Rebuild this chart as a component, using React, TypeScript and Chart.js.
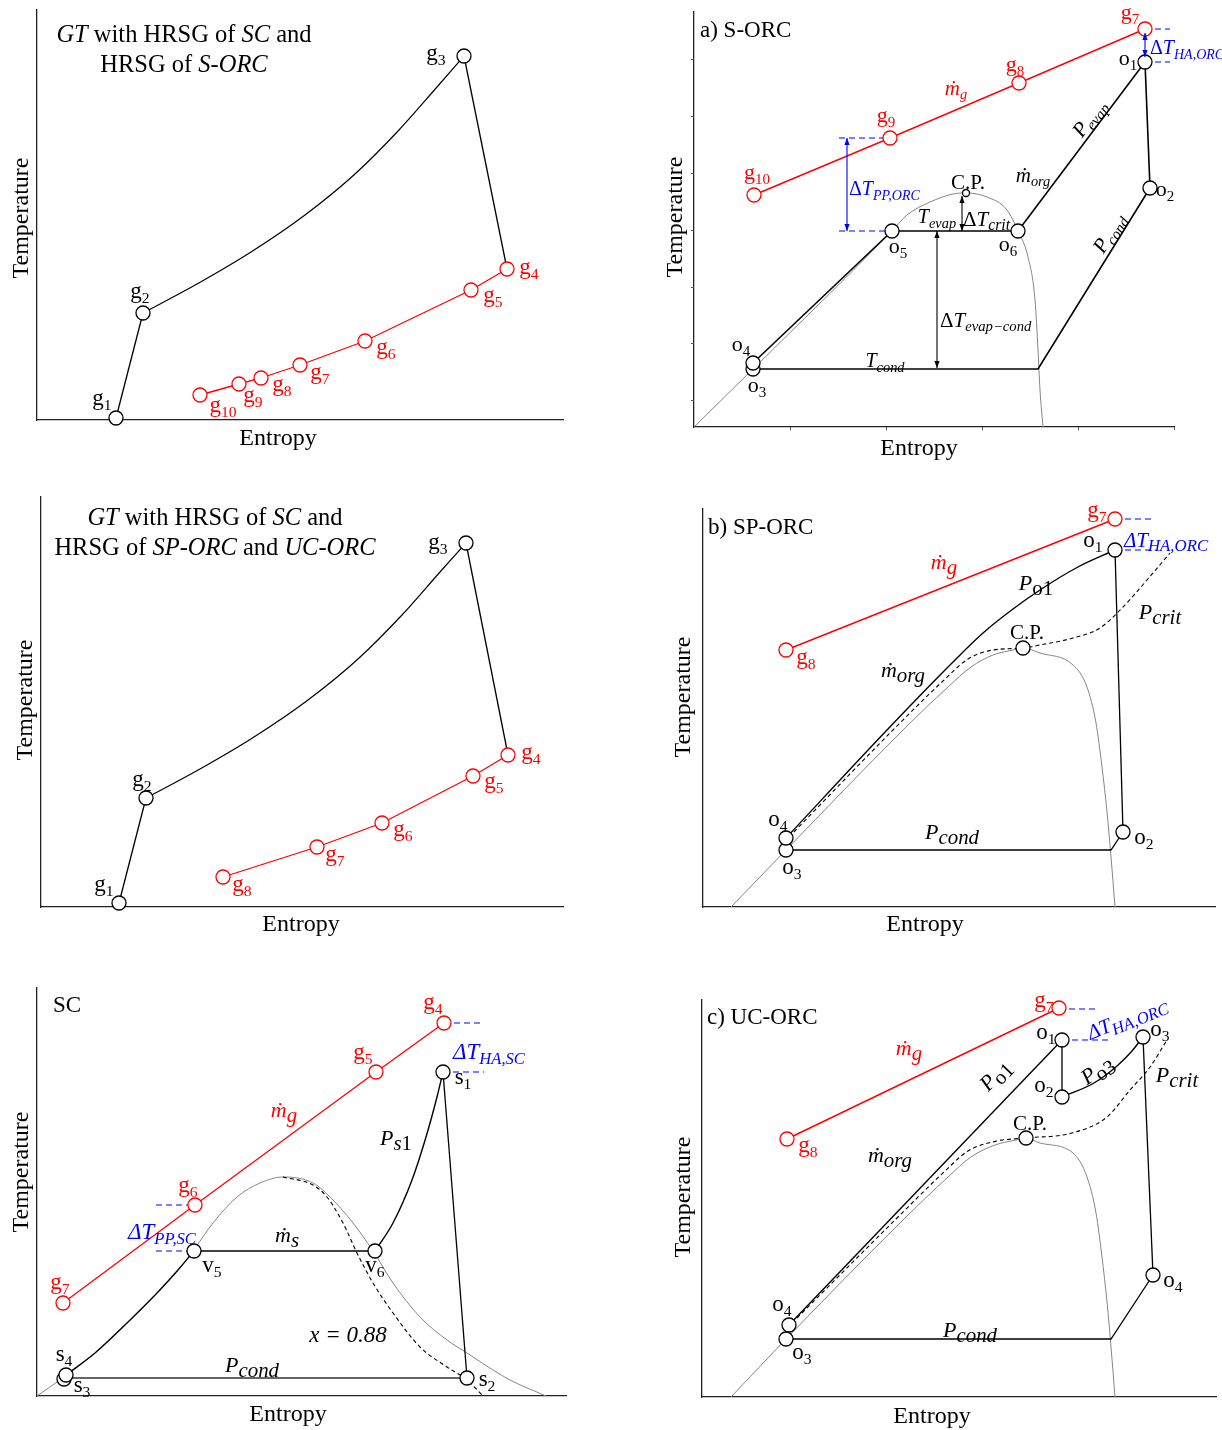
import { useEffect, useRef } from "react";
import { Chart, registerables } from "chart.js";

Chart.register(...registerables);

type Pt = [number, number];
// [text, flags ("i" italic, "b" lowered/subscript), size factor]
type Run = [string, string?, number?];
type Label = { at: Pt; runs: Run[]; size?: number; color?: string; align?: "left" | "center" | "right"; rot?: number };
type Trace = { pts: Pt[]; color: string; width?: number; dash?: number[]; smooth?: boolean };
type Marks = { pts: Pt[]; color: string; r?: number };
type Arrow = { from: Pt; to: Pt; color: string };
type Box = { left: number; top: number; right: number; bottom: number };
type PanelSpec = {
  frame: Box;
  plot: Box;
  traces: Trace[];
  marks: Marks[];
  arrows?: Arrow[];
  labels: Label[];
  ticks?: { x: number[]; y: number[] };
};

const SERIF = '"Liberation Serif", "Times New Roman", Times, serif';
const INK = "#000000";
const RED = "#ff0000";
const BLUE = "#0000ff";
const GREY = "#858585";

// ---------------------------------------------------------------------------
// GT cycle (top): HRSG of SC and S-ORC   [entropy, temperature] in arbitrary units
const gtTopCompression: Pt[] = [[79, 2], [106, 107]];
const gtTopCombustion: Pt[] = [[106, 107], [160, 136], [214, 168], [268, 205], [318, 246], [362, 290], [400, 333], [427, 364]];
const gtTopExpansion: Pt[] = [[427, 364], [470, 151]];
const gtTopExhaust: Pt[] = [[470, 151], [434, 130], [328, 79], [263, 55], [224, 42], [202, 36], [163, 25]];
const gtTopStates: Pt[] = [[79, 2], [106, 107], [427, 364]];

// GT cycle (middle): HRSG of SC, SP-ORC and UC-ORC
const gtMidCompression: Pt[] = [[78, 4], [105, 109]];
const gtMidCombustion: Pt[] = [[105, 109], [159, 138], [213, 170], [267, 207], [317, 248], [361, 292], [399, 335], [425, 364]];
const gtMidExpansion: Pt[] = [[425, 364], [467, 152]];
const gtMidExhaust: Pt[] = [[467, 152], [432, 131], [341, 84], [276, 60], [182, 30]];
const gtMidStates: Pt[] = [[78, 4], [105, 109], [425, 364]];

// a) S-ORC
const sorcGas: Pt[] = [[60, 232], [196, 289], [325, 344], [451, 398]];
const sorcPump: Pt[] = [[59, 58], [59, 64]];
const sorcPreheat: Pt[] = [[59, 64], [198, 196]];
const sorcEvaporate: Pt[] = [[198, 196], [324, 196]];
const sorcSuperheat: Pt[] = [[324, 196], [451, 365]];
const sorcExpand: Pt[] = [[451, 365], [456, 239]];
const sorcCondense: Pt[] = [[456, 239], [344, 58], [59, 58]];
const sorcDome: Pt[] = [[0, 0], [59, 58], [198, 196], [213, 212], [236, 225], [259, 233], [272, 234], [293, 230], [313, 217], [324, 196], [334, 170], [341, 127], [344, 77], [346, 37], [349, 0]];
const sorcStates: Pt[] = [[451, 365], [456, 239], [59, 58], [59, 64], [198, 196], [324, 196]];
const sorcCritical: Pt[] = [[272, 234]];
const sorcPinchTop: Pt[] = [[145, 289], [196, 289]];
const sorcPinchBottom: Pt[] = [[145, 196], [198, 196]];
const sorcApproachTop: Pt[] = [[451, 398], [476, 398]];
const sorcApproachBottom: Pt[] = [[451, 365], [476, 365]];

// b) SP-ORC
const sporcGas: Pt[] = [[83, 257], [412, 388]];
const sporcPump: Pt[] = [[83, 57], [83, 69]];
const sporcHeat: Pt[] = [[83, 69], [184, 177], [250, 245], [280, 274], [310, 298], [340, 319], [375, 340], [412, 357]];
const sporcExpand: Pt[] = [[412, 357], [420, 75]];
const sporcCondense: Pt[] = [[420, 75], [408, 57], [83, 57]];
const sporcCritIsobar: Pt[] = [[86, 70], [193, 180], [240, 226], [265, 248], [290, 257], [320, 259], [337, 262], [370, 269], [397, 279], [420, 300], [444, 327], [467, 354]];
const sporcDome: Pt[] = [[28, 0], [83, 57], [200, 177], [245, 220], [268, 240], [290, 252], [310, 257], [320, 259], [337, 254], [370, 242], [384, 220], [393, 184], [399, 140], [404, 95], [408, 50], [412, 0]];
const sporcStates: Pt[] = [[412, 357], [420, 75], [83, 57], [83, 69], [320, 259]];
const sporcApproachTop: Pt[] = [[412, 388], [449, 388]];
const sporcApproachBottom: Pt[] = [[412, 357], [453, 357]];

// SC (steam cycle)
const scGas: Pt[] = [[26, 93], [158, 191], [339, 324], [407, 373]];
const scPump: Pt[] = [[27, 18], [29, 21]];
const scEconomizer: Pt[] = [[29, 21], [58, 43], [90, 73], [120, 103], [141, 126], [157, 145]];
const scEvaporate: Pt[] = [[157, 145], [338, 145]];
const scSuperheat: Pt[] = [[338, 145], [356, 173], [375, 216], [389, 259], [400, 299], [406, 324]];
const scTurbine: Pt[] = [[406, 324], [430, 18]];
const scCondense: Pt[] = [[430, 18], [27, 18]];
const scDome: Pt[] = [[0, 0], [27, 19], [58, 43], [90, 73], [120, 103], [141, 126], [156, 145], [176, 173], [200, 199], [223, 213], [246, 219], [276, 213], [296, 196], [316, 173], [336, 145], [356, 113], [383, 79], [410, 56], [430, 43], [456, 26], [473, 16], [509, 0]];
const scQuality: Pt[] = [[246, 219], [276, 211], [290, 199], [306, 173], [320, 143], [336, 113], [356, 83], [383, 49], [410, 29], [430, 16], [446, 0]];
const scStates: Pt[] = [[406, 324], [430, 18], [27, 17], [29, 21], [157, 145], [338, 145]];
const scApproachTop: Pt[] = [[407, 373], [446, 373]];
const scApproachBottom: Pt[] = [[406, 324], [447, 324]];
const scPinchTop: Pt[] = [[119, 191], [158, 191]];
const scPinchBottom: Pt[] = [[119, 145], [157, 145]];

// c) UC-ORC
const ucorcGas: Pt[] = [[85, 258], [357, 389]];
const ucorcPump: Pt[] = [[84, 58], [87, 72]];
const ucorcHeat: Pt[] = [[87, 72], [360, 357]];
const ucorcExpandHigh: Pt[] = [[360, 357], [360, 300]];
const ucorcReheat: Pt[] = [[360, 300], [392, 314], [415, 331], [430, 346], [441, 360]];
const ucorcExpandLow: Pt[] = [[441, 360], [451, 122]];
const ucorcCondense: Pt[] = [[451, 122], [409, 58], [84, 58]];
const ucorcCritIsobar: Pt[] = [[90, 74], [194, 178], [242, 225], [266, 246], [295, 256], [324, 259], [370, 264], [405, 280], [428, 307], [448, 330], [465, 357]];
const ucorcDome: Pt[] = [[29, 0], [84, 58], [201, 177], [246, 220], [269, 240], [293, 252], [314, 257], [324, 259], [338, 254], [371, 244], [385, 220], [394, 184], [400, 140], [405, 95], [409, 50], [413, 0]];
const ucorcStates: Pt[] = [[360, 357], [360, 300], [441, 360], [451, 122], [87, 72], [84, 58], [324, 259]];
const ucorcApproachTop: Pt[] = [[357, 388], [393, 388]];
const ucorcApproachBottom: Pt[] = [[360, 357], [406, 357]];

// axis tick values of the S-ORC diagram
const sorcTicksS = [96, 192, 288, 384, 480];
const sorcTicksT = [27, 84, 140, 197, 254, 311, 368];

// ---------------------------------------------------------------------------
const lab = (at: Pt, runs: Run[], extra: Partial<Label> = {}): Label => ({ at, runs, ...extra });
// state-point name with index, e.g. g₃ / o₁ (anchor sits on the letter body)
const st = (name: string, idx: string, at: Pt, color = INK, size = 23): Label =>
  lab([at[0], at[1] + 3], [[name], [idx, "b"]], { color, size });
const axisLabels = (t: Pt, s: Pt): Label[] => [
  lab(t, [["Temperature"]], { size: 24, rot: -90 }),
  lab(s, [["Entropy"]], { size: 24 }),
];
const mdot = (sub: string, at: Pt, k: number, color = INK, size = 22): Label =>
  lab(at, [["ṁ", "i"], [sub, "ib", k]], { color, size });

const gtTopLabels: Label[] = [
  lab([147, 386], [["GT", "i"], [" with HRSG of "], ["SC", "i"], [" and"]], { size: 24.5 }),
  lab([147, 356], [["HRSG of "], ["S-ORC", "i"]], { size: 24.5 }),
  st("g", "1", [65, 19]), st("g", "2", [103, 126]), st("g", "3", [399, 364]),
  st("g", "4", [492, 150], RED), st("g", "5", [456, 122], RED), st("g", "6", [349, 70], RED),
  st("g", "7", [283, 45], RED), st("g", "8", [245, 33], RED), st("g", "9", [216, 22], RED),
  st("g", "10", [186, 12], RED),
  ...axisLabels([-17, 202], [241, -17]),
];

const gtMidLabels: Label[] = [
  lab([174, 390], [["GT", "i"], [" with HRSG of "], ["SC", "i"], [" and"]], { size: 24.5 }),
  lab([174, 360], [["HRSG of "], ["SP-ORC", "i"], [" and "], ["UC-ORC", "i"]], { size: 24.5 }),
  st("g", "1", [63, 20]), st("g", "2", [101, 125]), st("g", "3", [397, 362]),
  st("g", "4", [490, 152], RED), st("g", "5", [453, 123], RED), st("g", "6", [362, 75], RED),
  st("g", "7", [294, 50], RED), st("g", "8", [201, 20], RED),
  ...axisLabels([-17, 207], [260, -16]),
];

const sorcLabels: Label[] = [
  lab([6, 397], [["a) S-ORC"]], { size: 23, align: "left" }),
  st("g", "10", [63, 252], RED, 22), st("g", "9", [192, 309], RED, 22), st("g", "8", [321, 360], RED, 22), st("g", "7", [436, 412], RED, 22),
  mdot("g", [262, 339], 0.68, RED, 21),
  lab([155, 238], [["Δ"], ["T", "i"], ["PP,ORC", "ib", 0.7]], { size: 20, color: BLUE, align: "left" }),
  lab([456, 379], [["Δ"], ["T", "i"], ["HA,ORC", "ib", 0.7]], { size: 20, color: BLUE, align: "left" }),
  lab([274, 245], [["C.P."]], { size: 21 }),
  lab([243, 210], [["T", "i"], ["evap", "ib", 0.72]], { size: 20 }),
  lab([269, 208], [["Δ"], ["T", "i"], ["crit", "ib", 0.75]], { size: 21, align: "left" }),
  lab([246, 107], [["Δ"], ["T", "i"], ["evap−cond", "ib", 0.7]], { size: 21, align: "left" }),
  lab([191, 66], [["T", "i"], ["cond", "ib", 0.72]], { size: 20 }),
  mdot("org", [339, 252], 0.68, INK, 21),
  lab([395, 309], [["P", "i"], ["evap", "ib", 0.72]], { size: 21, rot: -53 }),
  lab([415, 194], [["P", "i"], ["cond", "ib", 0.72]], { size: 21, rot: -58 }),
  st("o", "1", [434, 366], INK, 22), st("o", "2", [471, 235], INK, 22), st("o", "5", [204, 178], INK, 22),
  st("o", "6", [314, 180], INK, 22), st("o", "4", [47, 80], INK, 22), st("o", "3", [63, 39], INK, 22),
  ...axisLabels([-20, 210], [225, -20]),
];

const sporcLabels: Label[] = [
  lab([5, 380], [["b) SP-ORC"]], { size: 23, align: "left" }),
  st("g", "8", [103, 247], RED), st("g", "7", [394, 394], RED),
  mdot("g", [241, 345], 0.95, RED),
  lab([421, 367], [["ΔT", "i"], ["HA,ORC", "ib", 0.8]], { size: 21, color: BLUE, align: "left" }),
  lab([333, 324], [["P", "i"], ["o1", "b", 0.95]], { size: 22 }),
  lab([457, 295], [["P", "i"], ["crit", "ib", 0.95]], { size: 22 }),
  lab([324, 275], [["C.P."]], { size: 21 }),
  mdot("org", [200, 237], 0.95),
  lab([249, 75], [["P", "i"], ["cond", "ib", 0.95]], { size: 22 }),
  st("o", "1", [390, 364]), st("o", "2", [441, 67]), st("o", "4", [75, 85]), st("o", "3", [89, 37]),
  ...axisLabels([-21, 210], [222, -16]),
];

const scLabels: Label[] = [
  lab([16, 391], [["SC"]], { size: 23, align: "left" }),
  st("g", "7", [23, 111], RED), st("g", "6", [151, 208], RED), st("g", "5", [326, 341], RED), st("g", "4", [396, 391], RED),
  mdot("g", [247, 286], 0.95, RED),
  lab([416, 344], [["ΔT", "i"], ["HA,SC", "ib", 0.72]], { size: 23, color: BLUE, align: "left" }),
  lab([91, 164], [["ΔT", "i"], ["PP,SC", "ib", 0.72]], { size: 23, color: BLUE, align: "left" }),
  lab([359, 258], [["P", "i"], ["s", "ib", 0.95], ["1", "b", 0.95]], { size: 22 }),
  mdot("s", [250, 161], 0.95),
  lab([311, 61], [["x = 0.88", "i"]], { size: 23 }),
  lab([215, 31], [["P", "i"], ["cond", "ib", 0.95]], { size: 22 }),
  st("s", "1", [426, 316]), st("s", "2", [450, 14]), st("s", "3", [45, 8]), st("s", "4", [27, 39]),
  st("v", "5", [175, 128]), st("v", "6", [338, 128]),
  ...axisLabels([-17, 224], [251, -17]),
];

const ucorcLabels: Label[] = [
  lab([5, 380], [["c) UC-ORC"]], { size: 23, align: "left" }),
  st("g", "8", [106, 249], RED), st("g", "7", [342, 394], RED),
  mdot("g", [207, 349], 0.95, RED),
  lab([425, 379], [["ΔT", "i"], ["HA,ORC", "ib", 0.8]], { size: 21, color: BLUE, rot: -22 }),
  lab([293, 322], [["P", "i"], ["o1", "b", 0.95]], { size: 22, rot: -46 }),
  lab([395, 327], [["P", "i"], ["o3", "b", 0.95]], { size: 22, rot: -35 }),
  lab([475, 322], [["P", "i"], ["crit", "ib", 0.95]], { size: 22 }),
  lab([328, 274], [["C.P."]], { size: 21 }),
  mdot("org", [188, 242], 0.95),
  lab([268, 67], [["P", "i"], ["cond", "ib", 0.95]], { size: 22 }),
  st("o", "1", [344, 362]), st("o", "2", [342, 309]), st("o", "3", [458, 365]), st("o", "4", [471, 114]),
  st("o", "4", [80, 90]), st("o", "3", [100, 42]),
  ...axisLabels([-20, 200], [230, -18]),
];

// ---------------------------------------------------------------------------
const solid = (pts: Pt[], color = INK, width = 1.3, smooth = false): Trace => ({ pts, color, width, smooth });
const dashed = (pts: Pt[], color = INK): Trace => ({ pts, color, width: 1.1, dash: [4, 3], smooth: true });
const guide = (pts: Pt[]): Trace => ({ pts, color: BLUE, width: 1.2, dash: [6, 4] });

const PANELS: PanelSpec[] = [
  {
    frame: { left: 0, top: 0, right: 630, bottom: 478 },
    plot: { left: 37, top: 10, right: 563, bottom: 420 },
    traces: [
      solid(gtTopCompression), solid(gtTopCombustion, INK, 1.2, true), solid(gtTopExpansion),
      solid(gtTopExhaust, RED, 1.3),
    ],
    marks: [{ pts: gtTopStates, color: INK }, { pts: gtTopExhaust, color: RED }],
    labels: gtTopLabels,
  },
  {
    frame: { left: 640, top: 0, right: 1222, bottom: 478 },
    plot: { left: 694, top: 12, right: 1174, bottom: 427 },
    traces: [
      solid(sorcGas, RED, 1.4),
      solid(sorcPump, INK, 1.6), solid(sorcPreheat, INK, 1.6), solid(sorcEvaporate, INK, 1.6),
      solid(sorcSuperheat, INK, 1.6), solid(sorcExpand, INK, 1.6), solid(sorcCondense, INK, 1.6),
      solid(sorcDome, GREY, 1, true),
      guide(sorcPinchTop), guide(sorcPinchBottom), guide(sorcApproachTop), guide(sorcApproachBottom),
    ],
    marks: [
      { pts: sorcStates, color: INK }, { pts: sorcCritical, color: INK, r: 3.5 },
      { pts: sorcGas, color: RED },
    ],
    arrows: [
      { from: [153, 289], to: [153, 196], color: BLUE },
      { from: [451, 394], to: [451, 370], color: BLUE },
      { from: [268, 231], to: [268, 196], color: INK },
      { from: [243, 196], to: [243, 59], color: INK },
    ],
    labels: sorcLabels,
    ticks: { x: sorcTicksS, y: sorcTicksT },
  },
  {
    frame: { left: 0, top: 478, right: 630, bottom: 955 },
    plot: { left: 41, top: 497, right: 563, bottom: 907 },
    traces: [
      solid(gtMidCompression), solid(gtMidCombustion, INK, 1.2, true), solid(gtMidExpansion),
      solid(gtMidExhaust, RED, 1.3),
    ],
    marks: [{ pts: gtMidStates, color: INK }, { pts: gtMidExhaust, color: RED }],
    labels: gtMidLabels,
  },
  {
    frame: { left: 640, top: 478, right: 1222, bottom: 955 },
    plot: { left: 703, top: 509, right: 1215, bottom: 907 },
    traces: [
      solid(sporcGas, RED, 1.4),
      solid(sporcPump), solid(sporcHeat, INK, 1.4, true), solid(sporcExpand), solid(sporcCondense),
      dashed(sporcCritIsobar), solid(sporcDome, GREY, 1, true),
      guide(sporcApproachTop), guide(sporcApproachBottom),
    ],
    marks: [{ pts: sporcStates, color: INK }, { pts: sporcGas, color: RED }],
    labels: sporcLabels,
  },
  {
    frame: { left: 0, top: 955, right: 630, bottom: 1430 },
    plot: { left: 37, top: 988, right: 566, bottom: 1396 },
    traces: [
      solid(scGas, RED, 1.3),
      solid(scPump), solid(scEconomizer, INK, 1.4, true), solid(scEvaporate), solid(scSuperheat, INK, 1.4, true),
      solid(scTurbine), solid(scCondense, "#333", 1.6),
      dashed(scQuality), solid(scDome, GREY, 1, true),
      guide(scApproachTop), guide(scApproachBottom), guide(scPinchTop), guide(scPinchBottom),
    ],
    marks: [{ pts: scStates, color: INK }, { pts: scGas, color: RED }],
    labels: scLabels,
  },
  {
    frame: { left: 640, top: 955, right: 1222, bottom: 1430 },
    plot: { left: 702, top: 1000, right: 1216, bottom: 1397 },
    traces: [
      solid(ucorcGas, RED, 1.4),
      solid(ucorcPump), solid(ucorcHeat, INK, 1.4), solid(ucorcExpandHigh), solid(ucorcReheat, INK, 1.4, true),
      solid(ucorcExpandLow), solid(ucorcCondense),
      dashed(ucorcCritIsobar), solid(ucorcDome, GREY, 1, true),
      guide(ucorcApproachTop), guide(ucorcApproachBottom),
    ],
    marks: [{ pts: ucorcStates, color: INK }, { pts: ucorcGas, color: RED }],
    labels: ucorcLabels,
  },
];

// ---------------------------------------------------------------------------
function drawLabel(ctx: CanvasRenderingContext2D, x: number, y: number, l: Label) {
  const size = l.size ?? 22;
  const pieces = l.runs.map(([text, flags = "", k]) => {
    const lowered = flags.includes("b");
    const s = size * (k ?? (lowered ? 0.68 : 1));
    const font = `${flags.includes("i") ? "italic " : ""}${s.toFixed(1)}px ${SERIF}`;
    ctx.font = font;
    return { text, font, w: ctx.measureText(text).width, dy: lowered ? size * 0.22 : 0 };
  });
  const total = pieces.reduce((a, p) => a + p.w, 0);
  const align = l.align ?? "center";
  let cx = align === "left" ? 0 : align === "right" ? -total : -total / 2;
  ctx.save();
  ctx.translate(x, y);
  if (l.rot) ctx.rotate((l.rot * Math.PI) / 180);
  ctx.fillStyle = l.color ?? INK;
  ctx.textAlign = "left";
  ctx.textBaseline = "alphabetic";
  for (const p of pieces) {
    ctx.font = p.font;
    ctx.fillText(p.text, cx, size * 0.32 + p.dy);
    cx += p.w;
  }
  ctx.restore();
}

function drawArrow(ctx: CanvasRenderingContext2D, x1: number, y1: number, x2: number, y2: number, color: string) {
  const head = (hx: number, hy: number, ang: number) => {
    ctx.beginPath();
    ctx.moveTo(hx, hy);
    ctx.lineTo(hx - 7 * Math.cos(ang) + 2.6 * Math.sin(ang), hy - 7 * Math.sin(ang) - 2.6 * Math.cos(ang));
    ctx.lineTo(hx - 7 * Math.cos(ang) - 2.6 * Math.sin(ang), hy - 7 * Math.sin(ang) + 2.6 * Math.cos(ang));
    ctx.closePath();
    ctx.fill();
  };
  const ang = Math.atan2(y2 - y1, x2 - x1);
  ctx.strokeStyle = color;
  ctx.fillStyle = color;
  ctx.lineWidth = 1.1;
  ctx.setLineDash([]);
  ctx.beginPath();
  ctx.moveTo(x1, y1);
  ctx.lineTo(x2, y2);
  ctx.stroke();
  head(x2, y2, ang);
  head(x1, y1, ang + Math.PI);
}

function overlay(spec: PanelSpec) {
  return {
    id: "tsOverlay",
    afterDatasetsDraw(chart: Chart) {
      const { ctx } = chart;
      const xs = chart.scales.x;
      const ys = chart.scales.y;
      const area = chart.chartArea;
      ctx.save();
      if (spec.ticks) {
        ctx.strokeStyle = "#555";
        ctx.lineWidth = 1;
        for (const v of spec.ticks.x) {
          const p = Math.round(xs.getPixelForValue(v)) + 0.5;
          ctx.beginPath();
          ctx.moveTo(p, area.bottom);
          ctx.lineTo(p, area.bottom + 3);
          ctx.stroke();
        }
        for (const v of spec.ticks.y) {
          const p = Math.round(ys.getPixelForValue(v)) + 0.5;
          ctx.beginPath();
          ctx.moveTo(area.left - 3, p);
          ctx.lineTo(area.left, p);
          ctx.stroke();
        }
      }
      for (const a of spec.arrows ?? []) {
        drawArrow(
          ctx,
          xs.getPixelForValue(a.from[0]), ys.getPixelForValue(a.from[1]),
          xs.getPixelForValue(a.to[0]), ys.getPixelForValue(a.to[1]),
          a.color,
        );
      }
      for (const l of spec.labels) {
        drawLabel(ctx, xs.getPixelForValue(l.at[0]), ys.getPixelForValue(l.at[1]), l);
      }
      ctx.restore();
    },
  };
}

function TsPanel({ spec }: { spec: PanelSpec }) {
  const ref = useRef<HTMLCanvasElement>(null);
  const { frame, plot } = spec;
  const width = frame.right - frame.left;
  const height = frame.bottom - frame.top;

  useEffect(() => {
    if (!ref.current) return;
    const xMax = plot.right - plot.left;
    const yMax = plot.bottom - plot.top;
    const toXY = (pts: Pt[]) => pts.map(([x, y]) => ({ x, y }));
    const datasets: any[] = [
      ...spec.marks.map((m) => ({
        data: toXY(m.pts),
        showLine: false,
        pointRadius: m.r ?? 7,
        pointHoverRadius: m.r ?? 7,
        pointBackgroundColor: "#ffffff",
        pointBorderColor: m.color,
        pointBorderWidth: 1.3,
        order: 0,
        clip: false,
      })),
      ...spec.traces.map((t) => ({
        data: toXY(t.pts),
        showLine: true,
        pointRadius: 0,
        pointHoverRadius: 0,
        borderColor: t.color,
        borderWidth: t.width ?? 1.3,
        borderDash: t.dash ?? [],
        tension: 0,
        cubicInterpolationMode: t.smooth ? "monotone" : "default",
        fill: false,
        order: 1,
        clip: false,
      })),
    ];
    const axis = (max: number) => ({
      type: "linear" as const,
      min: 0,
      max,
      ticks: { display: false },
      grid: { display: false, drawTicks: false },
      border: { display: true, color: "#222", width: 1.3 },
      title: { display: false },
    });
    const chart = new Chart(ref.current, {
      type: "scatter",
      data: { datasets },
      options: {
        animation: false,
        responsive: false,
        events: [],
        layout: {
          autoPadding: false,
          padding: {
            left: plot.left - frame.left,
            top: plot.top - frame.top,
            right: frame.right - plot.right,
            bottom: frame.bottom - plot.bottom,
          },
        },
        plugins: { legend: { display: false }, tooltip: { enabled: false } },
        scales: { x: axis(xMax), y: axis(yMax) },
      },
      plugins: [overlay(spec)],
    });
    return () => chart.destroy();
  }, [spec]);

  return (
    <canvas
      ref={ref}
      width={width}
      height={height}
      style={{ position: "absolute", left: frame.left, top: frame.top, width, height }}
    />
  );
}

export default function App() {
  return (
    <div style={{ position: "absolute", left: 0, top: 0, width: 1222, height: 1430, background: "#ffffff", overflow: "hidden" }}>
      {PANELS.map((p, i) => (
        <TsPanel key={i} spec={p} />
      ))}
    </div>
  );
}
